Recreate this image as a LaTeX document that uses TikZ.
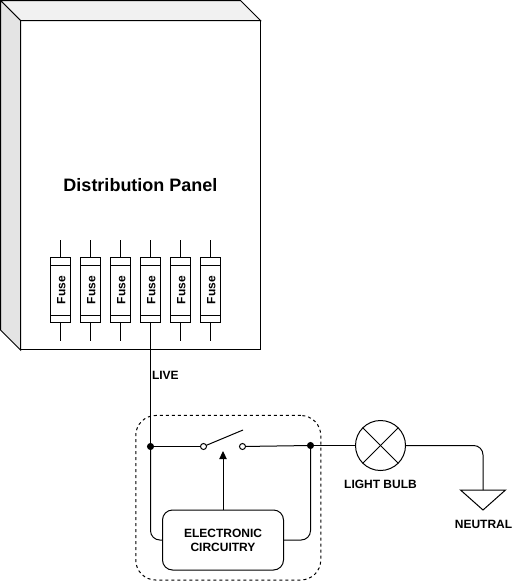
\documentclass[tikz,border=0pt]{standalone}
\usepackage{fontspec}
\setmainfont{Liberation Sans}
\usetikzlibrary{arrows.meta}

\tikzset{every picture/.style={line width=0.75pt}}
\tikzset{
  every node/.style={outer sep=0pt},
  smalltext/.style={font=\fontsize{9}{10.5}\selectfont\bfseries,inner sep=0pt,align=center},
  fusebox/.style={draw,fill=white,minimum width=15pt,minimum height=48.4pt,inner sep=0pt,font=\fontsize{9}{10.5}\selectfont\bfseries},
  joint/.style={circle,fill=black,draw=black,minimum size=4.5pt,inner sep=0pt},
  contact/.style={circle,fill=white,draw=black,minimum size=4.5pt,inner sep=0pt},
}
\newcommand{\fusetext}{\rotatebox{90}{\rule{0pt}{7.5pt}Fuse}}

\begin{document}
\begin{tikzpicture}[x=0.75pt,y=0.75pt,yscale=-1,xscale=1]
\useasboundingbox (0,0) rectangle (512,582);

\node [draw,minimum width=180pt,minimum height=247.1pt,inner sep=0pt,font=\fontsize{13.5}{16}\selectfont\bfseries] (panel) at (140.5,185.25) {Distribution Panel};
\coordinate (backTL) at (0.5,0.5);
\coordinate (backTR) at (240.5,0.5);
\coordinate (backBL) at (0.5,330);
\draw  [fill={rgb, 255:red, 241; green, 241; blue, 241 }] (backTL) -- (backTR) -- (panel.north east) -- (panel.north west) -- cycle ;
\draw  [fill={rgb, 255:red, 228; green, 228; blue, 228 }] (backTL) -- (panel.north west) -- (panel.south west) -- (backBL) -- cycle ;

% fuses
\node [fusebox] (fuse1) at (60.5,290.25) {\fusetext};
\node [fusebox] (fuse2) at (90.5,290.25) {\fusetext};
\node [fusebox] (fuse3) at (120.5,290.25) {\fusetext};
\node [fusebox] (fuse4) at (150.5,290.25) {\fusetext};
\node [fusebox] (fuse5) at (180.5,290.25) {\fusetext};
\node [fusebox] (fuse6) at (210.5,290.25) {\fusetext};

\draw  (50.5,265.5) -- (70.5,265.5) ;
\draw  (80.5,265.5) -- (100.5,265.5) ;
\draw  (110.5,265.5) -- (130.5,265.5) ;
\draw  (140.5,265.5) -- (160.5,265.5) ;
\draw  (170.5,265.5) -- (190.5,265.5) ;
\draw  (200.5,265.5) -- (220.5,265.5) ;
\draw  (50.5,315.5) -- (70.5,315.5) ;
\draw  (80.5,315.5) -- (100.5,315.5) ;
\draw  (110.5,315.5) -- (130.5,315.5) ;
\draw  (140.5,315.5) -- (160.5,315.5) ;
\draw  (170.5,315.5) -- (190.5,315.5) ;
\draw  (200.5,315.5) -- (220.5,315.5) ;

\draw  (fuse1.north) -- (60.5,240) ;
\draw  (fuse2.north) -- (90.5,240) ;
\draw  (fuse3.north) -- (120.5,240) ;
\draw  (fuse4.north) -- (150.5,240) ;
\draw  (fuse5.north) -- (180.5,240) ;
\draw  (fuse6.north) -- (210.5,240) ;
\draw  (fuse1.south) -- (60.5,341) ;
\draw  (fuse2.south) -- (90.5,341) ;
\draw  (fuse3.south) -- (120.5,341) ;
\draw  (fuse5.south) -- (180.5,341) ;
\draw  (fuse6.south) -- (210.5,341) ;

% switch unit
\node [draw,dash pattern=on 2.25pt off 2.25pt,rounded corners=15pt,minimum width=138.75pt,minimum height=123.4pt,inner sep=0pt] (unit) at (228.25,497.75) {};
\node [draw,rounded corners=7.5pt,minimum width=90.75pt,minimum height=45pt,inner sep=0pt,smalltext] (circuit) at (223,540) {ELECTRONIC\\CIRCUITRY};
\node [joint] (jointLive) at (150.5,446.5) {};
\node [joint] (jointOut) at (310.5,445.5) {};
\node [contact] (contactL) at (203.5,446.5) {};
\node [contact] (contactR) at (242.5,446.5) {};
\coordinate (leverEnd) at (243,430) ;
\coordinate (armTip) at (223,451) ;

\draw  (fuse4.south) -- (jointLive) ;
\draw  (jointLive) -- (contactL) ;
\draw  (contactR) -- (jointOut) ;
\draw  (contactL) -- (leverEnd) ;
\draw  [rounded corners=7pt] (jointLive) |- (circuit.west) ;
\draw  [rounded corners=7pt] (jointOut) |- (circuit.east) ;
\draw  [-{Triangle[length=6pt,width=5.5pt]}] (circuit.north) -- (armTip) ;

% bulb and neutral
\node [draw,circle,minimum size=37.5pt,inner sep=0pt] (lamp) at (380.5,445.5) {};
\draw  (lamp.45) -- (lamp.225) ;
\draw  (lamp.135) -- (lamp.315) ;
\coordinate (neutralTop) at (483,490) ;
\coordinate (neutralL) at (460.5,490) ;
\coordinate (neutralR) at (505.5,490) ;
\coordinate (neutralTip) at (483,510) ;
\draw  (jointOut) -- (lamp.west) ;
\draw  [rounded corners=7pt] (lamp.east) -| (neutralTop) ;
\draw  (neutralL) -- (neutralR) -- (neutralTip) -- cycle ;

\node [smalltext,anchor=west] (liveLabel) at (152,375) {LIVE};
\node [smalltext] (bulbLabel) at (380.5,484) {LIGHT BULB};
\node [smalltext] (neutralLabel) at (483.5,524) {NEUTRAL};

\end{tikzpicture}
\end{document}
